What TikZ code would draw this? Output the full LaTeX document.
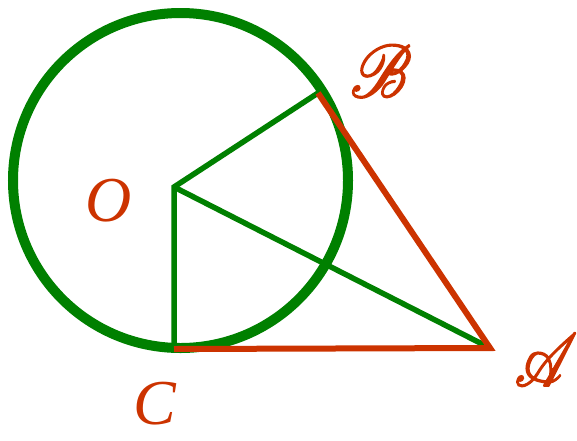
\documentclass[tikz,border=0pt]{standalone}
\usepackage{fontspec}
\setmainfont{Liberation Serif}
\usepackage{mathrsfs}
\usepackage{graphicx}
\definecolor{gr}{RGB}{0,128,0}
\definecolor{rd}{RGB}{204,51,0}
\newcommand{\fakebold}[1]{\special{pdf:literal direct 0.5 w 2 Tr}#1\special{pdf:literal direct 0 Tr}}
\tikzset{
  lbl/.style={text=rd, font=\fontsize{64}{64}\selectfont, inner sep=0pt},
  gline/.style={draw=gr, line width=5.5pt},
  rline/.style={draw=rd, line width=6pt},
}
\begin{document}
\begin{tikzpicture}[x=1pt,y=-1pt]
\useasboundingbox (0,0) rectangle (577,440);
\coordinate (ctr) at (180.5,180.5);
\coordinate (O) at (174,187);
\coordinate (B) at (318,93);
\coordinate (C) at (174,349);
\coordinate (A) at (490,348);
\draw[gr, line width=10pt] (ctr) circle[radius=167.5];
\draw[gline] (B) -- (O) -- (C);
\draw[gline] (O) -- (A);
\draw[rline] (B) -- (A) -- (C);
\node[lbl] (lO) at (109,201) {\itshape O};
\node[lbl] (lC) at (155,404) {\itshape C};
\node[lbl] (lA) at (546,360) {\fakebold{\scalebox{2.45}[3.0]{$\mathscr{A}$}}};
\node[lbl] (lB) at (381,71) {\fakebold{\scalebox{2.6}[3.0]{$\mathscr{B}$}}};
\end{tikzpicture}
\end{document}
